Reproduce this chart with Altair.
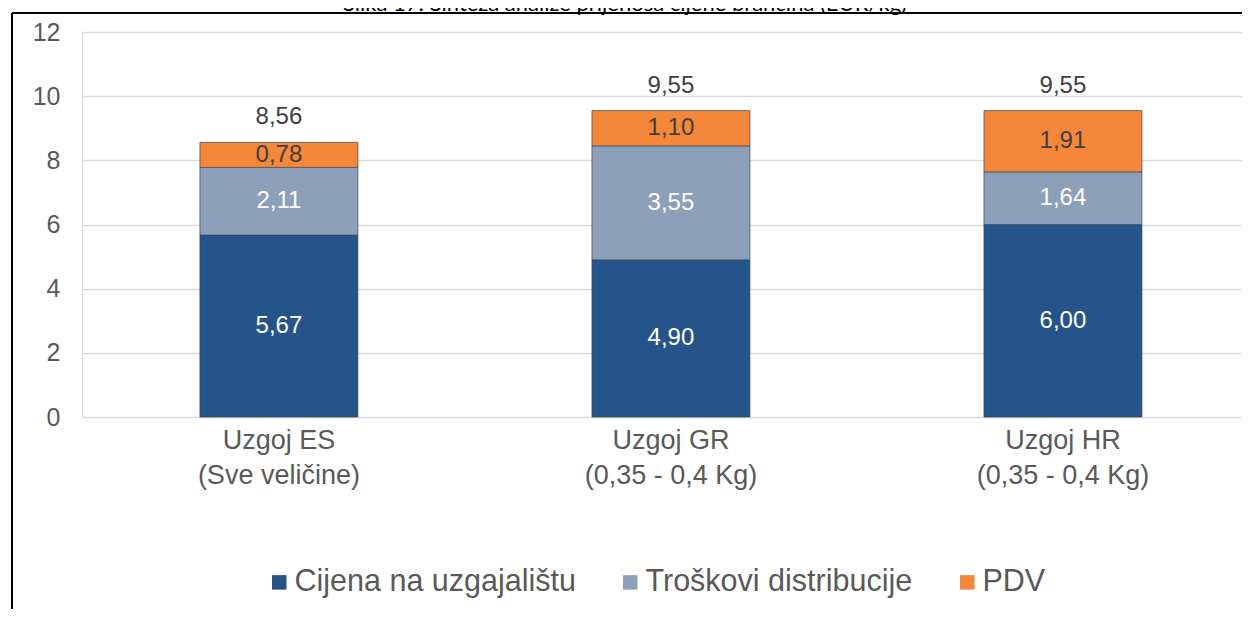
import altair as alt
import pandas as pd

categories = ["Uzgoj ES|(Sve veličine)", "Uzgoj GR|(0,35 - 0,4 Kg)", "Uzgoj HR|(0,35 - 0,4 Kg)"]
series = ["Cijena na uzgajalištu", "Troškovi distribucije", "PDV"]
cijena = [5.67, 4.90, 6.00]
troskovi = [2.11, 3.55, 1.64]
pdv = [0.78, 1.10, 1.91]
colors = ["#24548A", "#8DA0B9", "#F5873A"]
y_ticks = [0, 2, 4, 6, 8, 10, 12]
title_text = "Slika 17: Sinteza analize prijenosa cijene brančina (EUR/kg)"

rows = []
for i, c in enumerate(categories):
    for j, (s, vals) in enumerate(zip(series, [cijena, troskovi, pdv])):
        rows.append({"cat": c, "series": s, "v": vals[i], "ord": j})
df = pd.DataFrame(rows)
one = pd.DataFrame({"t": [title_text]})

FONT = "Liberation Sans"

x = alt.X(
    "cat:N", sort=categories, title=None,
    scale=alt.Scale(paddingInner=0.597, paddingOuter=0.278, align=0.541),
    axis=alt.Axis(labelExpr="split(datum.label, '|')", domain=False, ticks=False,
                  labelFontSize=27, labelColor="#595959", labelPadding=10,
                  labelLineHeight=35, labelAngle=0, grid=False, labelFont=FONT),
)
yscale = alt.Scale(domain=[0, 12], nice=False, zero=True)

bars = alt.Chart(df).mark_bar(stroke="#3a4858", strokeWidth=1, strokeOpacity=0.7).encode(
    x=x,
    y=alt.Y("v:Q", stack="zero", scale=yscale,
            axis=alt.Axis(values=y_ticks, title=None, domain=False, ticks=False,
                          labelFontSize=25, labelColor="#595959", labelPadding=22,
                          gridColor="#D9D9D9", gridWidth=1.3, labelFont=FONT)),
    color=alt.Color("series:N", sort=series,
                    scale=alt.Scale(domain=series, range=colors),
                    legend=alt.Legend(orient="none", legendX=182, legendY=535,
                                      direction="horizontal", title=None,
                                      symbolType="square", symbolSize=210,
                                      symbolStrokeWidth=0, labelFontSize=30.5,
                                      labelColor="#595959", labelFont=FONT,
                                      labelLimit=0,
                                      columnPadding=39, labelOffset=0)),
    order=alt.Order("ord:Q"),
)

seg = alt.Chart(df).transform_stack(
    stack="v", groupby=["cat"], as_=["y0", "y1"],
    sort=[alt.SortField("ord", order="ascending")],
).transform_calculate(
    mid="(datum.y0 + datum.y1) / 2",
    lab="replace(format(datum.v, '.2f'), '.', ',')",
).mark_text(fontSize=24, font=FONT, baseline="middle").encode(
    x=x,
    y=alt.Y("mid:Q", scale=yscale, title=None),
    text="lab:N",
    color=alt.condition(alt.datum.ord == 2, alt.value("#404040"), alt.value("#FFFFFF")),
)

tot = alt.Chart(df).transform_aggregate(
    total="sum(v)", groupby=["cat"]
).transform_calculate(
    lab="replace(format(datum.total, '.2f'), '.', ',')"
).mark_text(fontSize=24, font=FONT, baseline="middle", dy=-25, color="#404040").encode(
    x=x,
    y=alt.Y("total:Q", scale=yscale, title=None),
    text="lab:N",
)

frame_top = alt.Chart(one).mark_rule(color="black", strokeWidth=2).encode(
    x=alt.value(-70), x2=alt.value(1170), y=alt.value(-19))
frame_left = alt.Chart(one).mark_rule(color="black", strokeWidth=2).encode(
    x=alt.value(-70), y=alt.value(-19), y2=alt.value(600))

title = alt.Chart(one).mark_text(font="Lato", fontSize=22, color="#000000",
                                 baseline="alphabetic", align="center").encode(
    x=alt.value(543), y=alt.value(-21), text="t:N")

chart = alt.layer(bars, seg, tot, frame_top, frame_left, title).properties(
    width=1160, height=385,
    autosize=alt.AutoSizeParams(type="none"),
    padding={"left": 74, "top": 24, "right": 0, "bottom": 192},
).configure_view(stroke=None).configure(background="white")

chart.save("out.html", embed_options={"renderer": "svg", "actions": False})
